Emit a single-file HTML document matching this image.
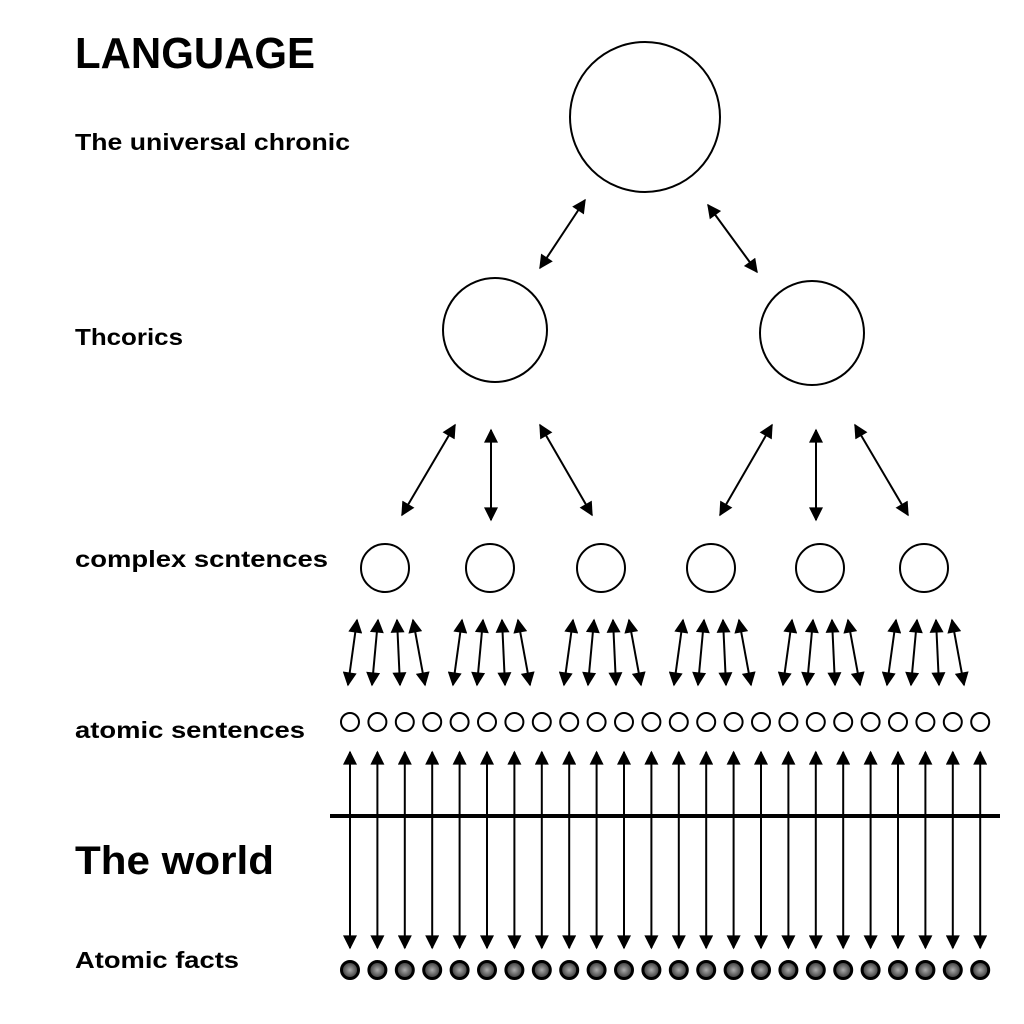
<!DOCTYPE html>
<html><head><meta charset="utf-8"><style>
html,body{margin:0;padding:0;background:#fff;}
svg{display:block;}
text{font-family:"Liberation Sans",sans-serif;font-weight:bold;fill:#000;}
</style></head><body>
<svg id="s" width="1024" height="1024" viewBox="0 0 1024 1024" xmlns="http://www.w3.org/2000/svg">
<defs>
<marker id="a" viewBox="0 0 10 10" refX="9" refY="5" markerWidth="5" markerHeight="6" orient="auto-start-reverse" markerUnits="userSpaceOnUse">
<path d="M0,0 L10,5 L0,10 z" fill="#000"/></marker>
<marker id="b" viewBox="0 0 10 10" refX="9" refY="5" markerWidth="16" markerHeight="14" orient="auto-start-reverse" markerUnits="userSpaceOnUse">
<path d="M0,0 L10,5 L0,10 z" fill="#000"/></marker>
<radialGradient id="g"><stop offset="0" stop-color="#aaa"/><stop offset="1" stop-color="#333"/></radialGradient>
</defs>
<text x="75" y="68" font-size="44" textLength="240" lengthAdjust="spacingAndGlyphs">LANGUAGE</text>
<text x="75" y="150" font-size="23" textLength="275" lengthAdjust="spacingAndGlyphs">The universal chronic</text>
<text x="75" y="345" font-size="23" textLength="108" lengthAdjust="spacingAndGlyphs">Thcorics</text>
<text x="75" y="567" font-size="23" textLength="253" lengthAdjust="spacingAndGlyphs">complex scntences</text>
<text x="75" y="738" font-size="23" textLength="230" lengthAdjust="spacingAndGlyphs">atomic sentences</text>
<text x="75" y="874" font-size="40" textLength="199" lengthAdjust="spacingAndGlyphs">The world</text>
<text x="75" y="968" font-size="23" textLength="164" lengthAdjust="spacingAndGlyphs">Atomic facts</text>
<g fill="none" stroke="#000" stroke-width="2">
<circle cx="645" cy="117" r="75"/>
<circle cx="495" cy="330" r="52"/>
<circle cx="812" cy="333" r="52"/>
</g>
<g id="arr" stroke="#000" stroke-width="2"></g>
<line x1="330" y1="816" x2="1000" y2="816" stroke="#000" stroke-width="4"/>
</svg>
<script>
var s=document.getElementById('arr'),N='http://www.w3.org/2000/svg';
function L(x1,y1,x2,y2,m,w){var l=document.createElementNS(N,'line');l.setAttribute('x1',x1);l.setAttribute('y1',y1);l.setAttribute('x2',x2);l.setAttribute('y2',y2);l.setAttribute('marker-start','url(#'+m+')');l.setAttribute('marker-end','url(#'+m+')');if(w)l.setAttribute('stroke-width',w);s.appendChild(l);}
function C(cx,cy,r,f,sw){var c=document.createElementNS(N,'circle');c.setAttribute('cx',cx);c.setAttribute('cy',cy);c.setAttribute('r',r);c.setAttribute('fill',f);c.setAttribute('stroke','#000');c.setAttribute('stroke-width',sw);s.appendChild(c);}
L(585,200,540,268,'b');L(708,205,757,272,'b');
[[455,425,402,515],[491,430,491,520],[540,425,592,515],[772,425,720,515],[816,430,816,520],[855,425,908,515]].forEach(function(a){L(a[0],a[1],a[2],a[3],'b');});
[385,490,601,711,820,924].forEach(function(x){
 C(x,568,24,'none',2);
 L(x-28,620,x-37,685,'b');L(x-7,620,x-13,685,'b');L(x+12,620,x+15,685,'b');L(x+28,620,x+40,685,'b');
});
for(var i=0;i<24;i++){var x=350+i*27.4;
 C(x,722,9,'none',2);
 L(x,752,x,948,'b');
 C(x,970,8.5,'url(#g)',3);
}
</script>
</body></html>
